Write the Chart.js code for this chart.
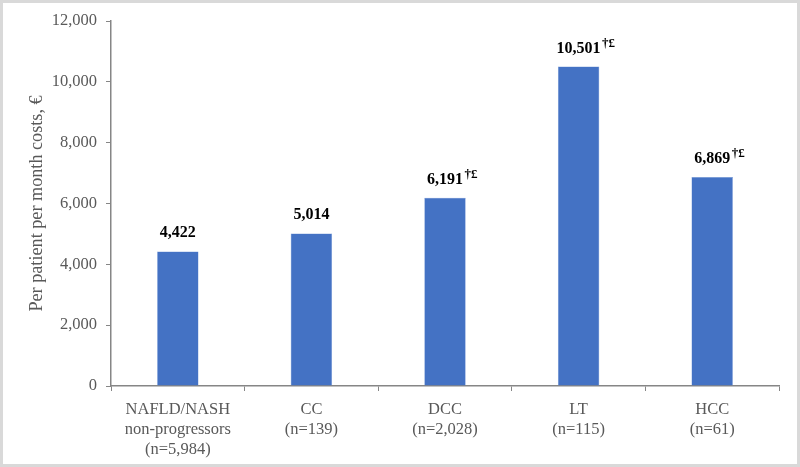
<!DOCTYPE html>
<html>
<head>
<meta charset="utf-8">
<script src="https://cdn.jsdelivr.net/npm/chart.js@4/dist/chart.umd.min.js"></script>
<style>
  html, body { margin: 0; padding: 0; background: #fff; }
  #wrap { width: 800px; height: 467px; position: relative; }
</style>
</head>
<body>
<div id="wrap"><canvas id="costChart"></canvas></div>
<script>
// Dados do gráfico
const categories = [
    ['NAFLD/NASH', 'non-progressors', '(n=5,984)'],
    ['CC', '(n=139)'],
    ['DCC', '(n=2,028)'],
    ['LT', '(n=115)'],
    ['HCC', '(n=61)']
];
const costs = [4422, 5014, 6191, 10501, 6869];
const valueLabels = ['4,422', '5,014', '6,191', '10,501', '6,869'];
const superscripts = ['', '', '†£', '†£', '†£'];
const yTicks = [0, 2000, 4000, 6000, 8000, 10000, 12000];

const serif = "'Liberation Serif', 'Times New Roman', serif";
const gray = '#595959';
const axisGray = '#868686';

// Rótulos de valor acima das barras
const valueLabelPlugin = {
    id: 'valueLabels',
    afterDatasetsDraw(chart) {
        const ctx = chart.ctx;
        const meta = chart.getDatasetMeta(0);
        ctx.save();
        ctx.fillStyle = '#000';
        ctx.textBaseline = 'alphabetic';
        meta.data.forEach((bar, i) => {
            const y = bar.y - 14;
            ctx.font = 'bold 16px ' + serif;
            ctx.textAlign = 'center';
            ctx.fillText(valueLabels[i], bar.x, y);
            if (superscripts[i]) {
                const w = ctx.measureText(valueLabels[i]).width;
                ctx.font = 'bold 13px ' + serif;
                ctx.textAlign = 'left';
                ctx.fillText(superscripts[i], bar.x + w / 2 + 1.5, y - 6);
            }
        });
        ctx.restore();
    }
};

// Moldura cinza em volta da imagem
const framePlugin = {
    id: 'frame',
    afterDraw(chart) {
        const ctx = chart.ctx;
        ctx.save();
        ctx.strokeStyle = '#d9d9d9';
        ctx.lineWidth = 3;
        ctx.strokeRect(1.5, 1.5, chart.width - 3, chart.height - 3);
        ctx.restore();
    }
};

new Chart(document.getElementById('costChart'), {
    type: 'bar',
    data: {
        labels: categories,
        datasets: [{
            data: costs,
            backgroundColor: '#4472C4',
            borderColor: '#6f93d3',
            borderWidth: 0.5,
            barPercentage: 0.31,
            categoryPercentage: 1
        }]
    },
    options: {
        responsive: true,
        maintainAspectRatio: false,
        animation: false,
        layout: { padding: { top: 21, right: 21, left: 0, bottom: 0 } },
        plugins: {
            legend: { display: false },
            tooltip: { enabled: false }
        },
        scales: {
            x: {
                grid: {
                    display: true,
                    drawOnChartArea: false,
                    drawTicks: true,
                    tickLength: 5,
                    color: axisGray,
                    offset: true
                },
                border: { display: true, color: axisGray, width: 1.5 },
                ticks: {
                    color: gray,
                    font: { family: serif, size: 16.5, lineHeight: 1.2 },
                    padding: 9,
                    maxRotation: 0,
                    autoSkip: false
                },
                afterFit(scale) { scale.height = 81; }
            },
            y: {
                min: 0,
                max: 12000,
                afterBuildTicks(scale) {
                    scale.ticks = yTicks.map(v => ({ value: v }));
                },
                grid: {
                    display: true,
                    drawOnChartArea: false,
                    drawTicks: true,
                    tickLength: 5,
                    color: axisGray
                },
                border: { display: true, color: axisGray, width: 1.5 },
                ticks: {
                    color: gray,
                    font: { family: serif, size: 16.5 },
                    padding: 9,
                    callback: v => v.toLocaleString('en-US')
                },
                title: {
                    display: true,
                    text: 'Per patient per month costs, €',
                    color: gray,
                    font: { family: serif, size: 18.2 },
                    padding: { top: 26, bottom: 0 }
                },
                afterFit(scale) { scale.width = 111; }
            }
        }
    },
    plugins: [valueLabelPlugin, framePlugin]
});
</script>
</body>
</html>
